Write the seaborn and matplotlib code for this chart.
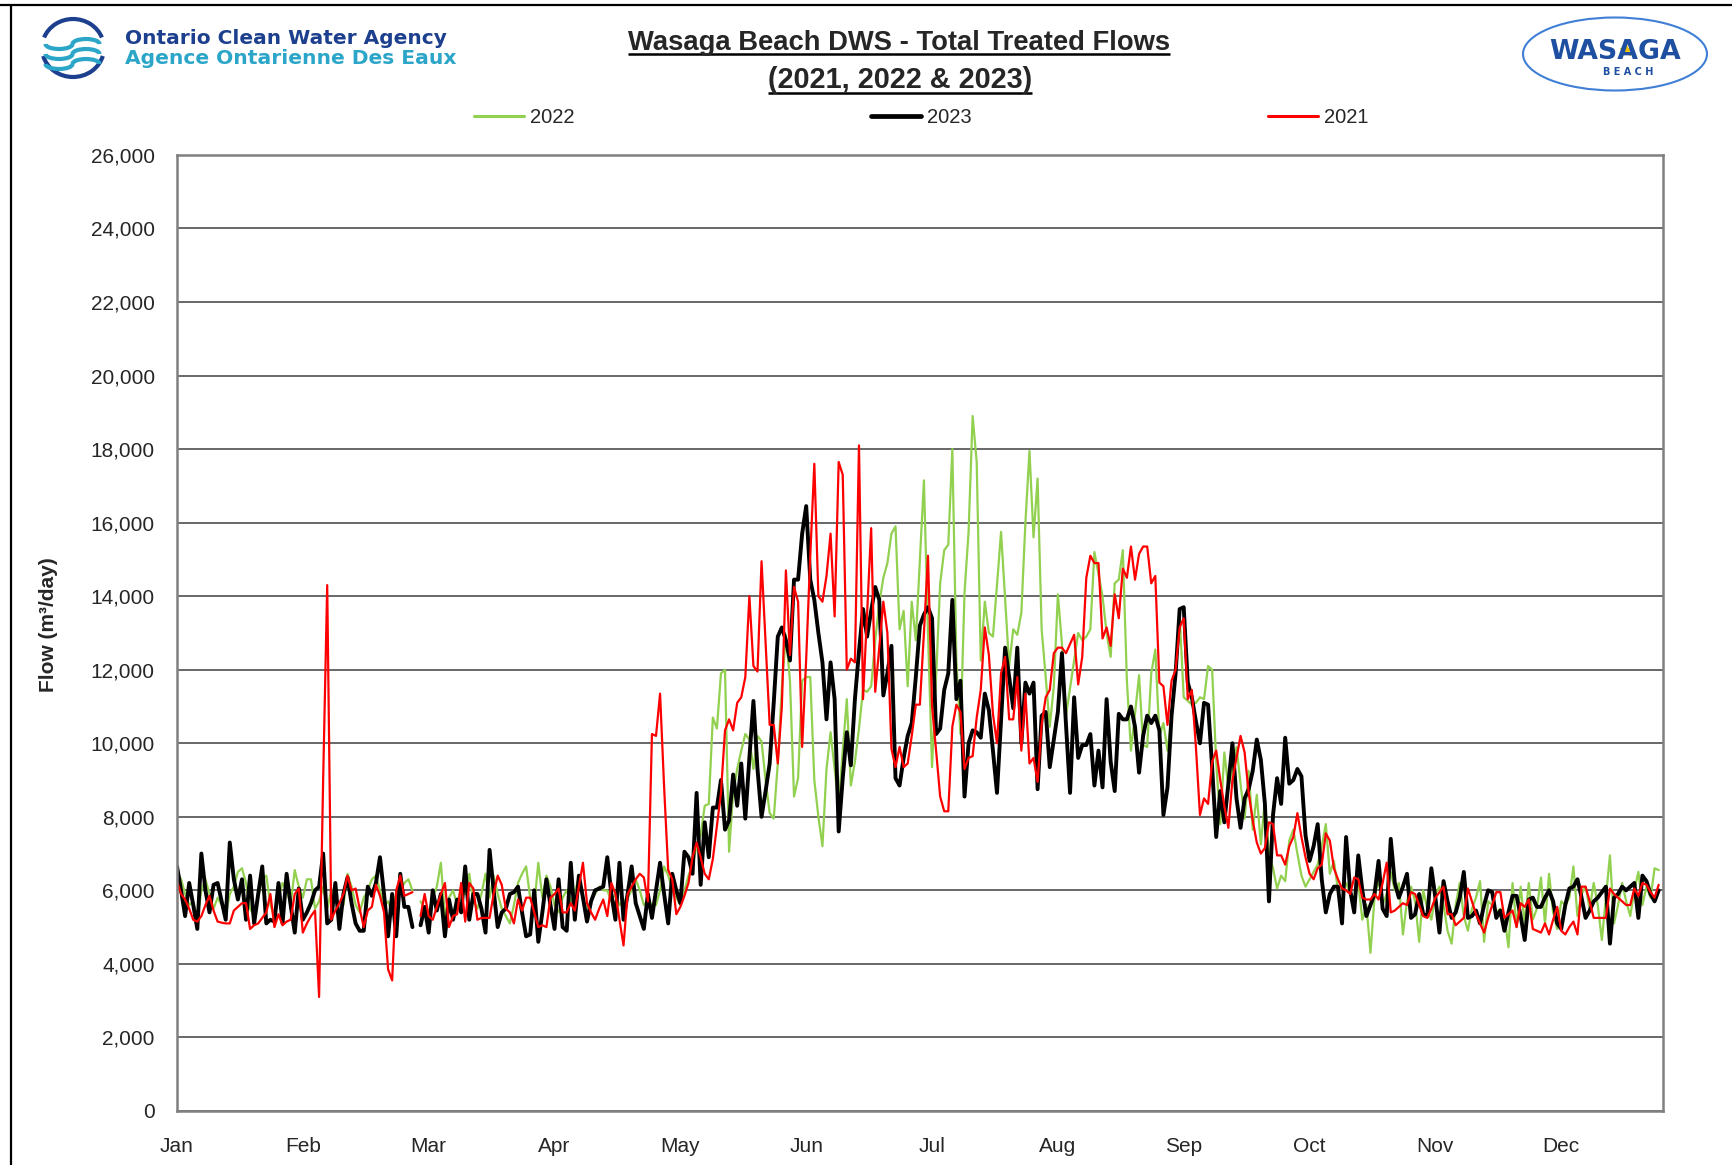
import numpy as np
import pandas as pd
import seaborn as sns
import matplotlib.pyplot as plt
from matplotlib.lines import Line2D
from matplotlib.patches import Arc, Ellipse
from matplotlib.ticker import FuncFormatter

# --------------------------------------------------
# DATA  (daily total treated flow, m3/day, 366 day slots, Feb 29 empty)
# --------------------------------------------------
nan = np.nan

flow_2023 = [
    6650, 6000, 5300, 6200, 5600, 4950, 7000, 6000, 5400, 6150,
    6200, 5700, 5200, 7300, 6300, 5750, 6300, 5200, 6400, 5100,
    5900, 6650, 5100, 5200, 5150, 6200, 5100, 6450, 5600, 4850,
    6050, 5200, 5400, 5650, 6000, 6100, 7000, 5100, 5200, 6200,
    4950, 5900, 6350, 5650, 5100, 4900, 4900, 6100, 5850, 6200,
    6900, 5900, 4750, 5900, 4750, 6450, 5550, 5550, 5000, nan,
    5050, 5550, 4850, 6000, 5450, 5900, 4750, 5750, 5200, 5750,
    5400, 6650, 5200, 5900, 5900, 5500, 4850, 7100, 6000, 5000,
    5400, 5500, 5900, 5950, 6100, 5400, 4750, 4800, 6000, 4600,
    5400, 6300, 5600, 4950, 6300, 5000, 4900, 6750, 5200, 6400,
    5800, 5150, 5700, 6000, 6050, 6100, 6900, 5900, 5200, 6750,
    5200, 5900, 6650, 5650, 5300, 4950, 5900, 5250, 6000, 6750,
    5900, 5100, 6450, 6000, 5650, 7050, 6900, 6450, 8650, 6150,
    7850, 6900, 8250, 8250, 9000, 7650, 7900, 9150, 8300, 9450,
    7950, 9600, 11150, 9300, 8000, 8700, 9450, 11100, 12900, 13150,
    12800, 12250, 14450, 14450, 15700, 16450, 14450, 13900, 13000, 12200,
    10650, 12200, 11200, 7600, 9050, 10300, 9400, 11200, 12500, 13650,
    12900, 13600, 14250, 13900, 11300, 11900, 12650, 9050, 8850, 9600,
    10200, 10550, 11800, 13200, 13500, 13700, 13400, 10250, 10400, 11450,
    11900, 13900, 11200, 11700, 8550, 10000, 10350, 10300, 10150, 11350,
    10900, 9800, 8650, 10600, 12600, 11800, 10950, 12600, 10000, 11650,
    11350, 11650, 8750, 10750, 10850, 9350, 10100, 10850, 12450, 10500,
    8650, 11250, 9600, 9950, 9950, 10250, 8850, 9800, 8800, 11200,
    9500, 8700, 10800, 10650, 10650, 11000, 10450, 9200, 10200, 10750,
    10550, 10750, 10350, 8050, 8800, 10750, 11900, 13650, 13700, 11650,
    11250, 10600, 10000, 11100, 11050, 9350, 7450, 8700, 7850, 8900,
    10000, 8500, 7700, 8500, 8750, 9250, 10100, 9550, 8350, 5700,
    8050, 9050, 8350, 10150, 8900, 9000, 9300, 9100, 7500, 6800,
    7200, 7800, 6300, 5400, 5900, 6100, 6100, 5100, 7450, 6000,
    5400, 6950, 6000, 5300, 5600, 5900, 6800, 5500, 5300, 7400,
    6200, 5800, 6100, 6450, 5250, 5350, 5900, 5350, 5300, 6600,
    5800, 4850, 6250, 5700, 5250, 5400, 5800, 6500, 5250, 5300,
    5450, 5100, 5600, 6000, 5950, 5250, 5450, 4900, 5400, 5850,
    5850, 5300, 4650, 5750, 5800, 5550, 5550, 5800, 6000, 5700,
    5100, 4950, 5600, 6050, 6100, 6300, 5800, 5250, 5450, 5700,
    5800, 5950, 6100, 4550, 5800, 5900, 6100, 6000, 6100, 6200,
    5250, 6400, 6250, 5900, 5700, 6000,
]

flow_2021 = [
    6250, 5900, 5750, 5500, 5200, 5150, 5300, 5600, 5850, 5450,
    5150, 5120, 5100, 5100, 5450, 5550, 5650, 5650, 4950, 5050,
    5100, 5250, 5400, 5900, 5000, 5350, 5050, 5150, 5200, 5900,
    6050, 4850, 5100, 5300, 5450, 3100, 9000, 14300, 5200, 5450,
    5650, 5900, 6400, 6000, 6050, 5500, 5000, 5450, 5550, 6150,
    5850, 5400, 3850, 3550, 6000, 6400, 5850, 5900, 5950, nan,
    5300, 5900, 5300, 5200, 5550, 5900, 6200, 5000, 5300, 5350,
    6200, 5150, 6200, 6050, 5200, 5250, 5250, 5250, 5900, 6400,
    6150, 5500, 5400, 5100, 5750, 5450, 5800, 5800, 5400, 5000,
    5050, 5000, 5800, 5900, 6050, 5400, 5400, 5650, 5450, 6100,
    6750, 5650, 5400, 5200, 5500, 5750, 5300, 6200, 5900, 5200,
    4500, 5900, 6100, 6300, 6450, 6350, 5700, 10250, 10200, 11350,
    8800, 6550, 6300, 5350, 5550, 5850, 6200, 6900, 7300, 6900,
    6450, 6300, 6850, 7750, 8650, 10350, 10650, 10350, 11100, 11250,
    11800, 14000, 12100, 11950, 14950, 12700, 10500, 10500, 9450, 11000,
    14700, 12400, 14250, 13850, 9900, 12300, 15100, 17600, 14000, 13850,
    14550, 15700, 13450, 17650, 17300, 12000, 12300, 12200, 18100, 11200,
    13500, 15850, 11400, 12600, 13850, 13000, 9850, 9350, 9900, 9350,
    9450, 10200, 11050, 11050, 13000, 15100, 11000, 9800, 8550, 8150,
    8150, 10450, 11050, 10850, 9300, 9600, 9650, 10700, 11450, 13150,
    12400, 10800, 10000, 11900, 12350, 10650, 10650, 11800, 9800, 11350,
    9450, 9600, 8950, 10500, 11250, 11450, 12450, 12600, 12600, 12450,
    12700, 12950, 11600, 12350, 14500, 15100, 14900, 14900, 12850, 13150,
    12650, 14050, 13400, 14750, 14500, 15350, 14450, 15150, 15350, 15350,
    14350, 14550, 11650, 11550, 10500, 11700, 12000, 13150, 13400, 11200,
    11450, 9900, 8050, 8500, 8350, 9500, 9800, 9000, 8300, 7700,
    9000, 9600, 10200, 9750, 8650, 7900, 7300, 7000, 7150, 7850,
    7800, 6950, 6950, 6700, 7200, 7450, 8100, 7450, 6900, 6450,
    6300, 6600, 6700, 7550, 7350, 6600, 6300, 6050, 6000, 5900,
    6350, 6300, 5800, 5750, 5750, 5900, 5750, 6200, 6750, 5400,
    5450, 5550, 5650, 5600, 5950, 5900, 5600, 5300, 5250, 5500,
    5800, 5950, 6100, 5350, 5350, 5050, 5150, 5250, 6050, 5700,
    5350, 5100, 4850, 5250, 5600, 5950, 5950, 5250, 5350, 5450,
    5000, 5650, 5550, 5750, 4950, 4900, 4850, 5100, 4800, 5200,
    5550, 4900, 4800, 5000, 5150, 4800, 6100, 6100, 5700, 5250,
    5250, 5250, 5250, 6050, 5900, 5800, 5700, 5600, 5600, 6050,
    5850, 6200, 6150, 5950, 5800, 6150,
]

flow_2022 = [
    6500, 6300, 5900, 5600, 5700, 5200, 6000, 6300, 5900, 5500,
    5800, 5600, 5300, 5900, 6100, 6500, 6600, 6200, 5500, 5300,
    5800, 6300, 6400, 5600, 5300, 5800, 6200, 6000, 5600, 6550,
    6100, 5800, 6300, 6300, 5500, 5700, 6100, 5500, 6000, 5900,
    5400, 5600, 6450, 6100, 5600, 5400, 5800, 6000, 6300, 6400,
    6000, 5600, 5700, 5400, 5900, 6000, 6200, 6300, 6000, nan,
    5700, 5500, 5400, 5800, 6100, 6750, 5300, 5800, 6000, 5600,
    6100, 5900, 6450, 5700, 5500, 5900, 6450, 5800, 6400, 5900,
    5500, 5300, 5100, 5600, 6200, 6450, 6650, 5800, 5600, 6750,
    5800, 6400, 6100, 5600, 5400, 5800, 6000, 5700, 5900, 6400,
    5800, 5500, 5700, 5900, 6100, 6000, 6000, 5700, 5900, 5600,
    5700, 5800, 6000, 6300, 6000, 5600, 5700, 5600, 5600, 6000,
    6650, 6400, 6050, 5800, 5600, 6000, 6400, 6700, 7200, 7500,
    8300, 8350, 10700, 10400, 11900, 12000, 7050, 8650, 9300, 9800,
    10250, 10100, 9300, 10200, 10050, 9000, 8100, 7950, 9450, 11500,
    12950, 11700, 8550, 9050, 11700, 11800, 11800, 9000, 8000, 7200,
    9300, 10300, 9300, 8300, 9800, 11200, 8850, 9500, 10400, 11450,
    11400, 11550, 12800, 13800, 14500, 14900, 15700, 15900, 13100, 13600,
    11550, 13850, 12800, 15000, 17150, 13000, 9350, 11800, 14350, 15250,
    15400, 18000, 12250, 10250, 14100, 15750, 18900, 17650, 12250, 13850,
    13000, 12900, 14300, 15750, 13900, 12100, 13100, 12950, 13550, 16000,
    17950, 15600, 17200, 13100, 11800, 10450, 11550, 14050, 12700, 10750,
    11500, 12250, 13000, 12800, 12900, 13100, 15200, 14600, 14000, 13000,
    12350, 14350, 14450, 15250, 11700, 9800, 10800, 11850, 9950, 9900,
    11900, 12550, 10200, 10550, 9800, 10700, 11900, 13450, 11250, 11150,
    11050, 11100, 11250, 11200, 12100, 12000, 9500, 7800, 9750, 8800,
    9300, 9900, 8900, 7950, 9250, 7650, 8600, 7250, 8450, 7000,
    6600, 6050, 6400, 6250, 7350, 7650, 7000, 6400, 6100, 6300,
    6500, 6700, 7200, 7800, 6450, 6800, 6000, 6100, 6200, 5900,
    5800, 6200, 5200, 5600, 4300, 5800, 6300, 5600, 5900, 6500,
    6000, 6200, 4800, 5700, 6100, 5700, 4600, 6000, 5500, 5200,
    5900, 6100, 5600, 4900, 4550, 5600, 6200, 5300, 4900, 5500,
    5800, 6250, 4600, 5700, 5600, 5400, 5500, 5300, 4450, 6200,
    5000, 6100, 5100, 6200, 5200, 5500, 6350, 5100, 6450, 5400,
    4950, 5700, 5600, 5800, 6650, 5300, 5900, 6100, 5500, 6200,
    5600, 4650, 5800, 6950, 5100, 5600, 6200, 5700, 5300, 6000,
    6500, 5600, 6100, 5800, 6600, 6550,
]

years = ["2022", "2023", "2021"]          # legend / drawing order
colors = {"2022": "#92D050", "2023": "#000000", "2021": "#FF0000"}
widths = {"2022": 1.6, "2023": 2.8, "2021": 1.6}
month_labels = ["Jan", "Feb", "Mar", "Apr", "May", "Jun",
                "Jul", "Aug", "Sep", "Oct", "Nov", "Dec"]
LEAP_SLOT = 59   # Feb 29 slot, empty in every year

# --------------------------------------------------
# LONG TABLE FOR SEABORN
# --------------------------------------------------
days = np.arange(366)
frames = []
for yr, vals in [("2022", flow_2022), ("2023", flow_2023), ("2021", flow_2021)]:
    frames.append(pd.DataFrame({"day": days, "flow": vals, "year": yr}))
df = pd.concat(frames, ignore_index=True)
# separate segments so the line breaks at the empty Feb 29 slot
df["seg"] = np.where(df["day"] < LEAP_SLOT, 0, 1)
df = df.dropna(subset=["flow"])

# --------------------------------------------------
# PLOT
# --------------------------------------------------
sns.set_style("white")
plt.rcParams["font.family"] = ["Liberation Sans", "DejaVu Sans"]

fig = plt.figure(figsize=(17.32, 11.65), dpi=100)
ax = fig.add_axes([0.1022, 0.0464, 0.8578, 0.8206])

for yr in years:
    sns.lineplot(data=df[df["year"] == yr], x="day", y="flow",
                 units="seg", estimator=None, color=colors[yr],
                 linewidth=widths[yr], ax=ax, legend=False)

ax.set_xlim(0, 366)
ax.set_ylim(0, 26000)
ax.set_yticks(np.arange(0, 26001, 2000))
ax.yaxis.set_major_formatter(FuncFormatter(lambda v, p: f"{v:,.0f}"))
ax.set_xticks(np.arange(0, 366, 31))
ax.set_xticklabels(month_labels)
ax.tick_params(axis="y", length=0, labelsize=15, pad=16)
ax.tick_params(axis="x", length=0, labelsize=15, pad=19)
ax.set_xlabel("")
ax.set_ylabel("Flow (m³/day)", fontsize=15, fontweight="bold")
ax.yaxis.set_label_coords(-0.080, 0.509)

ax.grid(axis="y", color="#404040", linewidth=1.1)
ax.grid(axis="x", visible=False)
ax.set_axisbelow(True)
for s in ax.spines.values():
    s.set_color("#808080")
    s.set_linewidth(1.8)

handles = [Line2D([], [], color=colors[y], linewidth=widths[y] + 0.6) for y in years]
fig.legend(handles, years, loc="center", bbox_to_anchor=(0.5318, 0.899),
           ncol=3, frameon=False, fontsize=14.5, handlelength=2.5,
           handletextpad=0.3, columnspacing=14.7)

# --------------------------------------------------
# HEADER: TITLE, LOGOS, FRAME  (pixel coordinates)
# --------------------------------------------------
deco = fig.add_axes([0, 0, 1, 1], zorder=5)
deco.set_xlim(0, 1732)
deco.set_ylim(1165, 0)
deco.axis("off")

fig.canvas.draw()
renderer = fig.canvas.get_renderer()


def fit_width(t, target):
    w = t.get_window_extent(renderer).width
    t.set_fontsize(t.get_fontsize() * target / w)


def underline(t, y):
    bb = t.get_window_extent(renderer)
    inv = deco.transData.inverted()
    x0, _ = inv.transform((bb.x0, bb.y0))
    x1, _ = inv.transform((bb.x1, bb.y0))
    deco.plot([x0, x1], [y, y], color="black", linewidth=1.8,
              solid_capstyle="butt")


t1 = deco.text(899, 50, "Wasaga Beach DWS - Total Treated Flows", ha="center",
               va="baseline", fontsize=20, fontweight="bold")
t2 = deco.text(900, 88, "(2021, 2022 & 2023)", ha="center", va="baseline",
               fontsize=20, fontweight="bold")
fit_width(t1, 540)
fit_width(t2, 266)
underline(t1, 54)
underline(t2, 93)

# OCWA logo
o1 = deco.text(125, 39, "Ontario Clean Water Agency", ha="left", va="center",
               fontsize=13, fontweight="bold", color="#1c3f8e",
               family="DejaVu Sans")
o2 = deco.text(125, 59, "Agence Ontarienne Des Eaux", ha="left", va="center",
               fontsize=13, fontweight="bold", color="#2ba6c8",
               family="DejaVu Sans")
fit_width(o1, 318)
fit_width(o2, 330)
deco.add_patch(Arc((73, 48), 62, 58, theta1=15, theta2=165,
                   color="#1c3f8e", linewidth=3))
deco.add_patch(Arc((73, 48), 62, 58, theta1=200, theta2=340,
                   color="#1c3f8e", linewidth=3))
for wy in (44, 54, 64):
    deco.add_patch(Arc((59, wy), 27, 10, theta1=0, theta2=180,
                       color="#2ba6c8", linewidth=3))
    deco.add_patch(Arc((86, wy), 27, 10, theta1=180, theta2=360,
                       color="#2ba6c8", linewidth=3))

# Wasaga Beach logo
deco.add_patch(Ellipse((1615, 54), 184, 73, fill=False,
                       edgecolor="#3f7fd6", linewidth=1.5))
w1 = deco.text(1615, 52, "WASAGA", ha="center", va="center", fontsize=16,
               fontweight="bold", color="#1e4fa0", family="DejaVu Sans")
fit_width(w1, 132)
deco.text(1628, 72, "B E A C H", ha="center", va="center", fontsize=7,
          fontweight="bold", color="#1e4fa0", family="DejaVu Sans")
deco.plot(1626, 50, marker="*", markersize=9, color="#f2c200")

# outer frame lines
deco.plot([0, 1732], [5, 5], color="black", linewidth=1.6)
deco.plot([11, 11], [5, 1165], color="black", linewidth=1.6)

fig.savefig("out.png", dpi=100)
